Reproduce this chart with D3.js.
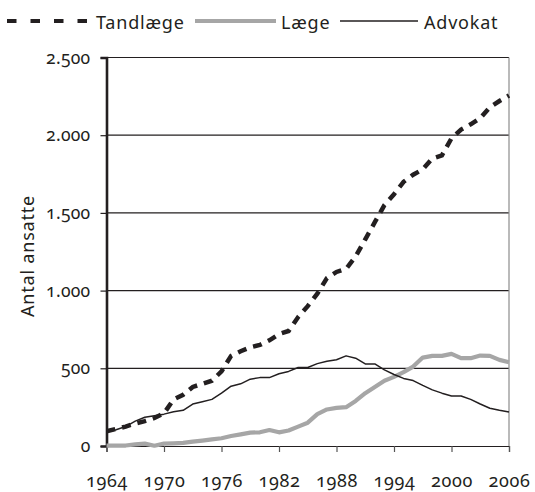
<!DOCTYPE html>
<html><head><meta charset="utf-8">
<script src="https://cdn.jsdelivr.net/npm/d3@7"></script>
<style>
body{margin:0;background:#fff;}
text{font-family:"Noto Sans",sans-serif;fill:#231f20;font-feature-settings:"onum" 1;}
</style></head><body>
<svg id="c" width="535" height="492"></svg>
<script>
const years = d3.range(1964, 2007);
const tandlaege = [95,110,125,145,160,180,210,300,330,380,400,420,480,580,610,635,650,680,720,740,830,900,980,1080,1120,1140,1220,1330,1440,1550,1620,1700,1746,1780,1850,1870,1980,2036,2070,2110,2180,2220,2255];
const laege = [2,2,3,10,15,2,15,17,20,28,35,43,50,64,75,86,88,103,88,100,125,150,205,235,245,250,290,340,380,420,445,475,511,569,580,580,593,565,565,582,580,554,539];
const advokat = [90,105,125,160,185,195,205,220,230,270,285,300,340,385,400,430,440,440,465,480,505,505,530,545,555,580,565,528,528,490,460,435,421,390,361,340,322,322,300,270,243,230,219];
const seriesNames = ["Tandlæge","Læge","Advokat"];
const xTicks = [1964,1970,1976,1982,1988,1994,2000,2006];
const yTicks = [0,500,1000,1500,2000,2500];
const yTitle = "Antal ansatte";

const svg = d3.select("#c");
const L = 106.5, R = 509, T = 57.5, B = 446;
const x = d3.scaleLinear().domain([1964,2006]).range([L,R]);
const y = d3.scaleLinear().domain([0,2500]).range([B,T]);
const fmt = v => d3.format(",")(v).replace(/,/g,".");

// gridlines
svg.append("g").selectAll("line").data(yTicks.filter(d=>d>0)).join("line")
  .attr("x1",L).attr("x2",R).attr("y1",d=>y(d)).attr("y2",d=>y(d))
  .attr("stroke","#231f20").attr("stroke-width",1.2);
// right border
svg.append("line").attr("x1",R).attr("x2",R).attr("y1",T).attr("y2",B)
  .attr("stroke","#8c8c8c").attr("stroke-width",1.2);

// x axis
const xa = svg.append("g").attr("transform",`translate(0,${B})`)
  .call(d3.axisBottom(x).tickValues(xTicks).tickFormat(d3.format("d")).tickSize(6).tickPadding(22));
xa.select(".domain").attr("stroke","#231f20").attr("stroke-width",1.2);
xa.selectAll(".tick line").attr("stroke","#555").attr("stroke-width",1.2);
xa.selectAll("text").attr("font-size",18).attr("letter-spacing",0.6).attr("fill","#231f20");

// y axis
const ya = svg.append("g").attr("transform",`translate(${L},0)`)
  .call(d3.axisLeft(y).tickValues(yTicks).tickFormat(fmt).tickSize(6).tickPadding(10));
ya.select(".domain").attr("stroke","#231f20").attr("stroke-width",2.6);
ya.selectAll(".tick line").attr("stroke","#231f20").attr("stroke-width",1.2);
ya.selectAll("text").attr("font-size",17.5).attr("letter-spacing",0.3).attr("fill","#231f20");

svg.append("text").attr("transform","translate(34,256) rotate(-90)")
  .attr("text-anchor","middle").attr("font-size",18).attr("letter-spacing",0.8).text(yTitle);

const line = d3.line().x((d,i)=>x(years[i])).y(d=>y(d));
svg.append("path").datum(laege).attr("d",line).attr("fill","none")
  .attr("stroke","#a6a6a6").attr("stroke-width",4.2).attr("stroke-linejoin","round");
svg.append("path").datum(advokat).attr("d",line).attr("fill","none")
  .attr("stroke","#231f20").attr("stroke-width",1.5).attr("stroke-linejoin","round");
svg.append("path").datum(tandlaege).attr("d",line).attr("fill","none")
  .attr("stroke","#231f20").attr("stroke-width",4.5).attr("stroke-dasharray","9,7");

// legend
const lg = svg.append("g");
const ly = 21;
lg.append("line").attr("x1",7).attr("x2",87).attr("y1",ly).attr("y2",ly)
  .attr("stroke","#231f20").attr("stroke-width",4).attr("stroke-dasharray","9.5,14");
lg.append("text").attr("x",96).attr("y",ly+8).attr("font-size",18).attr("letter-spacing",0.8).text(seriesNames[0]);
lg.append("line").attr("x1",195).attr("x2",276).attr("y1",ly).attr("y2",ly)
  .attr("stroke","#a6a6a6").attr("stroke-width",4);
lg.append("text").attr("x",281).attr("y",ly+8).attr("font-size",18).attr("letter-spacing",0.8).text(seriesNames[1]);
lg.append("line").attr("x1",340).attr("x2",418).attr("y1",ly).attr("y2",ly)
  .attr("stroke","#231f20").attr("stroke-width",1.5);
lg.append("text").attr("x",424).attr("y",ly+8).attr("font-size",18).attr("letter-spacing",0.8).text(seriesNames[2]);
</script></body></html>
